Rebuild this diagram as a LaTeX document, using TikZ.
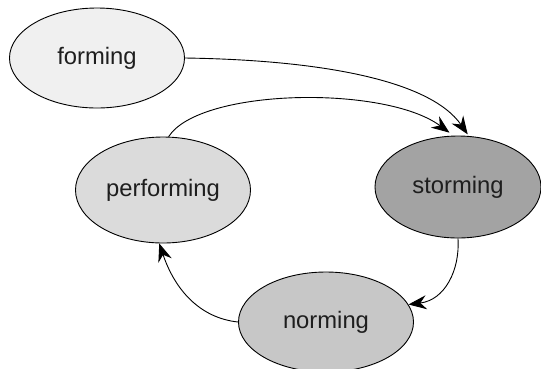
\documentclass[tikz,border=0pt]{standalone}
\usepackage{fontspec}
\setmainfont{Liberation Sans}
\usetikzlibrary{shapes.geometric,arrows.meta}
\definecolor{txt}{HTML}{1e1e1e}
\tikzset{
  stage/.style={ellipse, draw=black, line width=0.9pt, inner sep=0pt,
    font=\fontsize{23.8}{26}\selectfont, text=txt},
  conn/.style={line width=0.9pt, -{Stealth[length=18pt,width=14pt,inset=6pt]}}
}
\begin{document}
\begin{tikzpicture}[x=1pt,y=-1pt]
\useasboundingbox (0,0) rectangle (541,368);
\node[stage, fill=black!6, minimum width=175pt, minimum height=100pt] (forming) at (97,58) {forming};
\node[stage, fill=black!14, minimum width=175pt, minimum height=106pt] (performing) at (163,190) {performing};
\node[stage, fill=black!36, minimum width=166pt, minimum height=102pt] (storming) at (458,187) {storming};
\node[stage, fill=black!22, minimum width=175pt, minimum height=100pt] (norming) at (326,322) {norming};
\draw[conn, shorten >=2pt] (forming.east) .. controls (320,60) and (430,80) .. (storming.78);
\draw[conn, shorten >=5pt] (performing.84) .. controls (200,88) and (385,85) .. (storming.95);
\draw[conn] (storming.south) .. controls (460,270) and (445,300) .. (norming.12);
\draw[conn] (norming.west) .. controls (200,318) and (175,290) .. (performing.266);
\end{tikzpicture}
\end{document}
